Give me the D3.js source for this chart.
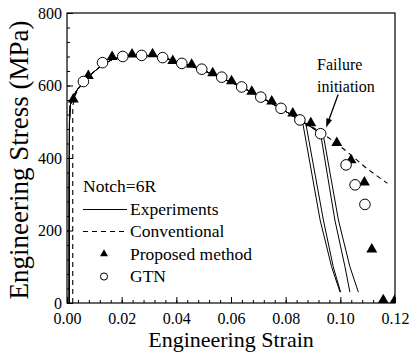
<!DOCTYPE html>
<html>
<head>
<meta charset="utf-8">
<script src="https://cdn.jsdelivr.net/npm/d3@7/dist/d3.min.js"></script>
<style>
  html, body { margin: 0; padding: 0; background: #fff; }
  svg { display: block; }
  text { font-family: "Liberation Serif", "Times New Roman", serif; fill: #000; }
</style>
</head>
<body>
<svg id="chart" width="411" height="360"></svg>
<script>
// Shared hardening curve of the experiments (strain, stress MPa)
const expBase = [
  [0.0008, 0], [0.0008, 300], [0.0009, 500], [0.0012, 545], [0.002, 568],
  [0.004, 591], [0.006, 607], [0.009, 632], [0.013, 658], [0.017, 673],
  [0.021, 680], [0.025, 683], [0.029, 683], [0.033, 680], [0.037, 673],
  [0.041, 664], [0.045, 655], [0.049, 644], [0.053, 632], [0.057, 619],
  [0.061, 606], [0.065, 591], [0.069, 576], [0.073, 559], [0.077, 542],
  [0.081, 524], [0.085, 505]
];
// Fracture branches of the individual specimens
const expTailA = [[0.0862, 499], [0.0926, 229], [0.0968, 100], [0.0999, 30]];
const expTailB = [[0.0874, 494], [0.0938, 229], [0.0974, 100], [0.1001, 30]];
const expTailC = [[0.089, 487], [0.0928, 466], [0.098, 229], [0.1017, 100], [0.1035, 30]];
const expTailD = [[0.089, 487], [0.0938, 462], [0.0993, 229], [0.1035, 100], [0.1066, 30]];

// Conventional simulation
const conventional = [
  [0.0021, 0], [0.0021, 540], [0.0026, 566], [0.004, 590], [0.006, 607],
  [0.009, 632], [0.013, 658], [0.017, 673], [0.021, 680], [0.025, 683],
  [0.029, 683], [0.033, 680], [0.037, 673], [0.041, 664], [0.045, 655],
  [0.049, 644], [0.053, 632], [0.057, 619], [0.061, 606], [0.065, 591],
  [0.069, 576], [0.073, 559], [0.077, 542], [0.081, 524], [0.085, 505],
  [0.089, 489], [0.093, 470], [0.097, 449], [0.1017, 422], [0.1097, 371],
  [0.1172, 330]
];

// Proposed method (triangles)
const proposedStrain = [0.0023, 0.0078, 0.0165, 0.0238, 0.0313, 0.0387, 0.0456, 0.0533,
  0.0602, 0.0676, 0.0749, 0.0826, 0.0892, 0.0987, 0.1039, 0.1088, 0.1115, 0.1157, 0.1200];
const proposedStress = [562, 627, 679, 686, 687, 668, 658, 634,
  612, 583, 556, 523, 496, 442, 394, 333, 148, 8, 8];

// GTN model (open circles)
const gtnStrain = [0.006, 0.013, 0.0204, 0.0273, 0.035, 0.042, 0.0493, 0.0566,
  0.0639, 0.0709, 0.0783, 0.0852, 0.0928, 0.1021, 0.1054, 0.109];
const gtnStress = [611, 663, 680, 683, 677, 661, 645, 623,
  596, 568, 537, 505, 467, 381, 326, 272];

const xTicks = [0, 0.02, 0.04, 0.06, 0.08, 0.10, 0.12];
const yTicks = [0, 200, 400, 600, 800];
const legendLabels = ["Experiments", "Conventional", "Proposed method", "GTN"];
const legendTitle = "Notch=6R";
const noteLines = ["Failure", "initiation"];
const noteArrow = [[0.0992, 575], [0.0948, 484]];

const svg = d3.select("#chart");
const x = d3.scaleLinear().domain([0, 0.12]).range([67, 395]);
const y = d3.scaleLinear().domain([0, 800]).range([303, 13]);

svg.append("defs").append("clipPath").attr("id", "plotClip")
  .append("rect")
  .attr("x", x(0)).attr("y", y(800))
  .attr("width", x(0.12) - x(0)).attr("height", y(0) - y(800));

// Axes with inward ticks
const minorX = d3.range(0, 0.1201, 0.004);
const minorY = d3.range(0, 801, 40);

svg.append("g").attr("transform", `translate(0,${y(0)})`)
  .call(d3.axisBottom(x).tickValues(minorX).tickSize(-3).tickSizeOuter(0).tickFormat(""))
  .call(g => g.select(".domain").remove());
svg.append("g").attr("transform", `translate(0,${y(0)})`)
  .call(d3.axisBottom(x).tickValues(xTicks).tickSize(-6).tickSizeOuter(0)
    .tickPadding(10).tickFormat(d3.format(".2f")))
  .call(g => g.select(".domain").remove())
  .call(g => g.selectAll("text").attr("font-size", 16).attr("font-family", "Liberation Serif"));

svg.append("g").attr("transform", `translate(${x(0)},0)`)
  .call(d3.axisLeft(y).tickValues(minorY).tickSize(-3).tickSizeOuter(0).tickFormat(""))
  .call(g => g.select(".domain").remove());
svg.append("g").attr("transform", `translate(${x(0)},0)`)
  .call(d3.axisLeft(y).tickValues(yTicks).tickSize(-6).tickSizeOuter(0).tickPadding(5))
  .call(g => g.select(".domain").remove())
  .call(g => g.selectAll("text").attr("font-size", 16).attr("font-family", "Liberation Serif"));

svg.selectAll(".tick line").attr("stroke", "#000");

// Frame
svg.append("rect")
  .attr("x", x(0)).attr("y", y(800))
  .attr("width", x(0.12) - x(0)).attr("height", y(0) - y(800))
  .attr("fill", "none").attr("stroke", "#000").attr("stroke-width", 1.2);

// Axis titles
svg.append("text")
  .attr("x", (x(0) + x(0.12)) / 2).attr("y", 347)
  .attr("text-anchor", "middle").attr("font-size", 22)
  .text("Engineering Strain");
svg.append("text")
  .attr("transform", `translate(28,${(y(0) + y(800)) / 2 + 2}) rotate(-90)`)
  .attr("text-anchor", "middle").attr("font-size", 27)
  .text("Engineering Stress (MPa)");

// Curves
const plot = svg.append("g").attr("clip-path", "url(#plotClip)");
const line = d3.line().x(d => x(d[0])).y(d => y(d[1]));

[expTailA, expTailB, expTailC, expTailD].forEach(tail => {
  plot.append("path").datum(expBase.concat(tail))
    .attr("d", line).attr("fill", "none")
    .attr("stroke", "#000").attr("stroke-width", 1);
});
plot.append("path").datum(conventional)
  .attr("d", line).attr("fill", "none")
  .attr("stroke", "#000").attr("stroke-width", 1.1)
  .attr("stroke-dasharray", "5,4");

// Markers
const tri = d3.symbol().type(d3.symbolTriangle).size(52);
const triSmall = d3.symbol().type(d3.symbolTriangle).size(28);

plot.selectAll("path.prop").data(proposedStrain.map((s, i) => [s, proposedStress[i]]))
  .join("path").attr("class", "prop")
  .attr("d", tri)
  .attr("transform", d => `translate(${x(d[0])},${y(d[1])})`)
  .attr("fill", "#000");

plot.selectAll("circle.gtn").data(gtnStrain.map((s, i) => [s, gtnStress[i]]))
  .join("circle").attr("class", "gtn")
  .attr("cx", d => x(d[0])).attr("cy", d => y(d[1])).attr("r", 5.3)
  .attr("fill", "#fff").attr("stroke", "#000").attr("stroke-width", 1);

// Annotation
noteLines.forEach((t, i) => {
  svg.append("text").attr("x", 317).attr("y", 70 + i * 22)
    .attr("font-size", 16).text(t);
});
const a0 = [x(noteArrow[0][0]), y(noteArrow[0][1])];
const a1 = [x(noteArrow[1][0]), y(noteArrow[1][1])];
const ang = Math.atan2(a1[1] - a0[1], a1[0] - a0[0]);
const headLen = 9, headW = 3;
const base = [a1[0] - headLen * Math.cos(ang), a1[1] - headLen * Math.sin(ang)];
svg.append("line")
  .attr("x1", a0[0]).attr("y1", a0[1]).attr("x2", base[0]).attr("y2", base[1])
  .attr("stroke", "#000").attr("stroke-width", 1.3);
svg.append("path")
  .attr("d", `M${a1[0]},${a1[1]}L${base[0] + headW * Math.sin(ang)},${base[1] - headW * Math.cos(ang)}L${base[0] - headW * Math.sin(ang)},${base[1] + headW * Math.cos(ang)}Z`)
  .attr("fill", "#000");

// Legend
const lg = svg.append("g");
lg.append("text").attr("x", 83).attr("y", 192).attr("font-size", 17.5).text(legendTitle);
const rows = [214.5, 237, 259.5, 282];
legendLabels.forEach((t, i) => {
  lg.append("text").attr("x", 130).attr("y", rows[i]).attr("font-size", 17.5).text(t);
});
lg.append("line").attr("x1", 83).attr("x2", 127).attr("y1", 209.5).attr("y2", 209.5)
  .attr("stroke", "#000").attr("stroke-width", 1);
lg.append("line").attr("x1", 83).attr("x2", 127).attr("y1", 231.5).attr("y2", 231.5)
  .attr("stroke", "#000").attr("stroke-width", 1.1).attr("stroke-dasharray", "5,4");
lg.append("path").attr("d", triSmall).attr("transform", "translate(104,254)").attr("fill", "#000");
lg.append("circle").attr("cx", 104).attr("cy", 276.5).attr("r", 3.6)
  .attr("fill", "#fff").attr("stroke", "#000").attr("stroke-width", 1);
</script>
</body>
</html>
